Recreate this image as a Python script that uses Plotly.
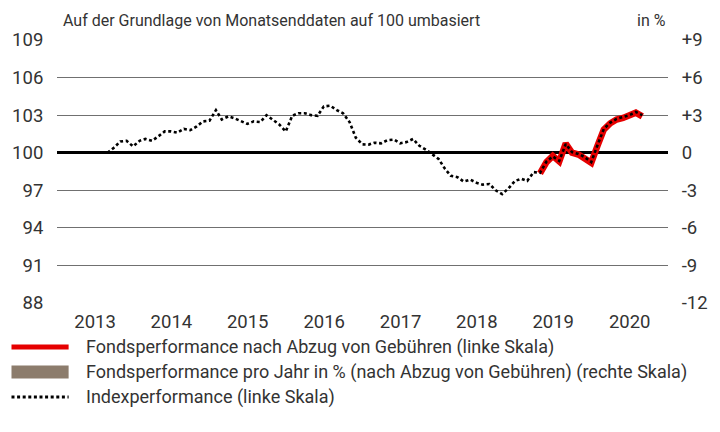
import plotly.graph_objects as go
import pandas as pd

# ---------------- data ----------------
months = pd.date_range("2013-08-31", "2020-08-31", freq="ME")

index_perf = [
    100.0, 100.4, 100.9, 100.95, 100.5,                      # 2013 Aug-Dec
    100.95, 101.1, 100.95, 101.3, 101.7, 101.7, 101.6, 101.9, 101.8, 102.1, 102.5, 102.55,  # 2014
    103.4, 102.65, 102.9, 102.75, 102.55, 102.3, 102.5, 102.45, 103.0, 102.65, 102.25, 101.7,  # 2015
    102.95, 103.15, 103.15, 103.0, 102.95, 103.7, 103.75, 103.4, 103.15, 102.45, 101.2, 100.67,  # 2016
    100.65, 100.8, 100.75, 101.0, 101.05, 100.75, 100.85, 101.1, 100.55, 100.25, 99.85, 99.5,  # 2017
    98.7, 98.15, 98.05, 97.7, 97.85, 97.6, 97.45, 97.5, 97.0, 96.7, 97.15, 97.75,  # 2018
    97.92, 97.75, 98.45, 98.4, 99.3, 99.7, 99.35, 100.7, 100.05, 99.9, 99.65, 99.25,  # 2019
    100.65, 101.9, 102.4, 102.7, 102.85, 103.0, 103.25, 103.0,  # 2020 Jan-Aug
]

fund_months = pd.date_range("2019-04-30", "2020-08-31", freq="ME")
fund_perf = [
    98.35, 99.25, 99.75, 99.3, 100.74, 100.0, 99.85, 99.6, 99.2,
    100.6, 101.85, 102.35, 102.65, 102.78, 102.95, 103.2, 102.9,
]

# annual fund performance (no full calendar year available -> no bars)
annual_years = []
annual_perf = []

years = [2013, 2014, 2015, 2016, 2017, 2018, 2019, 2020]
year_tick_pos = [f"{y}-07-02" for y in years]
year_labels = [str(y) for y in years]

left_ticks = [88, 91, 94, 97, 100, 103, 106, 109]
right_ticks = [-12, -9, -6, -3, 0, 3, 6, 9]
right_labels = ["-12", "-9", "-6", "-3", "0", "+3", "+6", "+9"]

legend_labels = [
    "Fondsperformance nach Abzug von Gebühren (linke Skala)",
    "Fondsperformance pro Jahr in % (nach Abzug von Gebühren) (rechte Skala)",
    "Indexperformance (linke Skala)",
]

# ---------------- styling ----------------
FONT = "Roboto, Liberation Sans, Arial, sans-serif"
TXT = "#333333"
RED = "#e60000"
BAR = "#8c7c6c"

W, H = 720, 432
L, R, T, B = 57, 32, 40, 129
PW, PH = W - L - R, H - T - B


def px(x):
    return (x - L) / PW


def py(y):
    return (H - B - y) / PH


fig = go.Figure()

fig.add_trace(go.Bar(x=annual_years, y=annual_perf, yaxis="y2",
                     marker_color=BAR, showlegend=False))
fig.add_trace(go.Scatter(x=fund_months, y=fund_perf, mode="lines",
                         line=dict(color=RED, width=6.5), showlegend=False))
fig.add_trace(go.Scatter(x=months, y=index_perf, mode="lines",
                         line=dict(color="black", width=2.6, dash="3px,2.6px"),
                         showlegend=False))

# legend built manually
rows = [347, 372, 397]
shapes = [
    dict(type="line", xref="paper", yref="paper", x0=px(10), x1=px(69),
         y0=py(rows[0]), y1=py(rows[0]), line=dict(color=RED, width=5)),
    dict(type="rect", xref="paper", yref="paper", x0=px(10), x1=px(69),
         y0=py(rows[1] - 6.5), y1=py(rows[1] + 6.5), line=dict(width=0), fillcolor=BAR),
    dict(type="line", xref="paper", yref="paper", x0=px(10), x1=px(69),
         y0=py(rows[2]), y1=py(rows[2]), line=dict(color="black", width=3, dash="3px,2.6px")),
]
annotations = [
    dict(text="Auf der Grundlage von Monatsenddaten auf 100 umbasiert", xref="paper", yref="paper",
         x=px(61), y=py(20), xanchor="left", yanchor="middle", showarrow=False,
         font=dict(family=FONT, size=16, color=TXT)),
    dict(text="in %", xref="paper", yref="paper",
         x=px(688), y=py(20), xanchor="right", yanchor="middle", showarrow=False,
         font=dict(family=FONT, size=16, color=TXT)),
]
for lab, r in zip(legend_labels, rows):
    annotations.append(dict(text=lab, xref="paper", yref="paper", x=px(85), y=py(r),
                            xanchor="left", yanchor="middle", showarrow=False,
                            font=dict(family=FONT, size=18, color=TXT)))

fig.update_layout(
    width=W, height=H,
    margin=dict(l=L, r=R, t=T, b=B, pad=0),
    paper_bgcolor="white", plot_bgcolor="white",
    font=dict(family=FONT, color=TXT, size=18.5),
    showlegend=False,
    xaxis=dict(type="date", range=["2013-01-01", "2021-01-01"],
               tickmode="array", tickvals=year_tick_pos, ticktext=year_labels,
               showgrid=False, zeroline=False, showline=False,
               ticks="outside", ticklen=2, tickcolor="rgba(0,0,0,0)",
               tickfont=dict(family=FONT, size=18.5, color=TXT)),
    yaxis=dict(range=[88, 109], tickmode="array", tickvals=left_ticks,
               showgrid=True, gridcolor="#707070", gridwidth=1,
               zeroline=False, showline=False,
               ticks="outside", ticklen=9, tickcolor="rgba(0,0,0,0)",
               tickfont=dict(family=FONT, size=18.5, color=TXT)),
    yaxis2=dict(range=[-12, 9], overlaying="y", side="right",
                tickmode="array", tickvals=right_ticks, ticktext=right_labels,
                showgrid=False, zeroline=True, zerolinecolor="black", zerolinewidth=3,
                showline=False,
                ticks="outside", ticklen=9, tickcolor="rgba(0,0,0,0)",
                tickfont=dict(family=FONT, size=18.5, color=TXT)),
    shapes=shapes,
    annotations=annotations,
    bargap=0.3,
)

fig.write_html("out.html", config={"displayModeBar": False},
               post_script="document.body.style.margin='0';document.body.style.overflow='hidden';")
